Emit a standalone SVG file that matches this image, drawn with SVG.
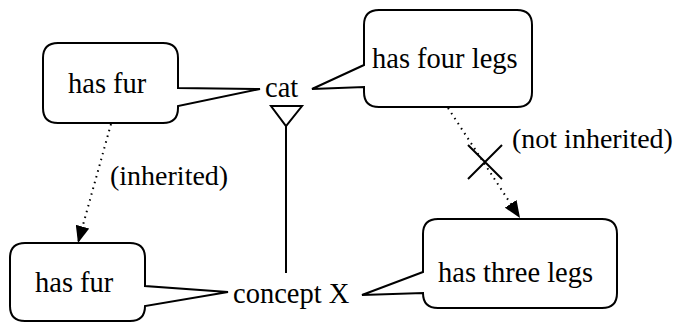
<svg xmlns="http://www.w3.org/2000/svg" width="679" height="322" viewBox="0 0 679 322">
  <style>
    .bubble { fill: #fff; stroke: #000; stroke-width: 2; stroke-linejoin: miter; }
    .dot { fill: none; stroke: #000; stroke-width: 2; stroke-dasharray: 1.5 4.5; }
    .solid { fill: none; stroke: #000; stroke-width: 2; }
  </style>
  <defs>
    <marker id="arrow" viewBox="0 0 17 14" refX="17" refY="7" markerWidth="17" markerHeight="14" markerUnits="userSpaceOnUse" orient="auto">
      <path d="M0,0 L17,7 L0,14 Z" fill="#000"/>
    </marker>
  </defs>

  <g font-family="'Liberation Serif', 'Times New Roman', serif" font-size="28.5" fill="#000">
    <!-- callout bubble for cat: has fur -->
    <g id="catFur">
      <path class="bubble" d="M58,43 H163 Q178,43 178,58 V88 L260,89 L178,106 V108 Q178,123 163,123 H58 Q43,123 43,108 V58 Q43,43 58,43 Z"/>
      <text x="68" y="93">has fur</text>
    </g>

    <!-- cat -->
    <g id="cat">
      <text x="265" y="97">cat</text>
    </g>

    <!-- callout bubble for cat: has four legs -->
    <g id="catLegs">
      <path class="bubble" d="M379,10 H517 Q532,10 532,25 V92 Q532,107 517,107 H379 Q364,107 364,92 V87 L312,89 L364,65 V25 Q364,10 379,10 Z"/>
      <text x="372" y="68">has four legs</text>
    </g>

    <!-- callout bubble for concept X: has fur -->
    <g id="xFur">
      <path class="bubble" d="M25,243 H130 Q145,243 145,258 V286 L228,292 L145,306 V306 Q145,321 130,321 H25 Q10,321 10,306 V258 Q10,243 25,243 Z"/>
      <text x="35" y="292">has fur</text>
    </g>

    <!-- concept X -->
    <g id="conceptX">
      <text x="233" y="303">concept X</text>
    </g>

    <!-- callout bubble for concept X: has three legs -->
    <g id="xLegs">
      <path class="bubble" d="M438,219 H602 Q617,219 617,234 V293 Q617,308 602,308 H438 Q423,308 423,293 V293 L362,295 L423,272 V234 Q423,219 438,219 Z"/>
      <text x="438" y="282">has three legs</text>
    </g>

    <!-- connectors -->
    <g id="connectors">
      <!-- generalisation: concept X is a kind of cat -->
      <line class="solid" x1="286" y1="273" x2="286" y2="126"/>
      <path class="solid" d="M271,106 H302 L286,126 Z"/>

      <!-- inherited property -->
      <line class="dot" x1="111" y1="124" x2="78" y2="243" marker-end="url(#arrow)"/>
      <text x="110" y="185" font-size="28">(inherited)</text>

      <!-- blocked property -->
      <line class="dot" x1="448" y1="108" x2="520" y2="218" marker-end="url(#arrow)"/>
      <path class="solid" d="M468,145 L502,179 M502,145 L468,179"/>
      <text x="512" y="148" font-size="28">(not inherited)</text>
    </g>
  </g>
</svg>
